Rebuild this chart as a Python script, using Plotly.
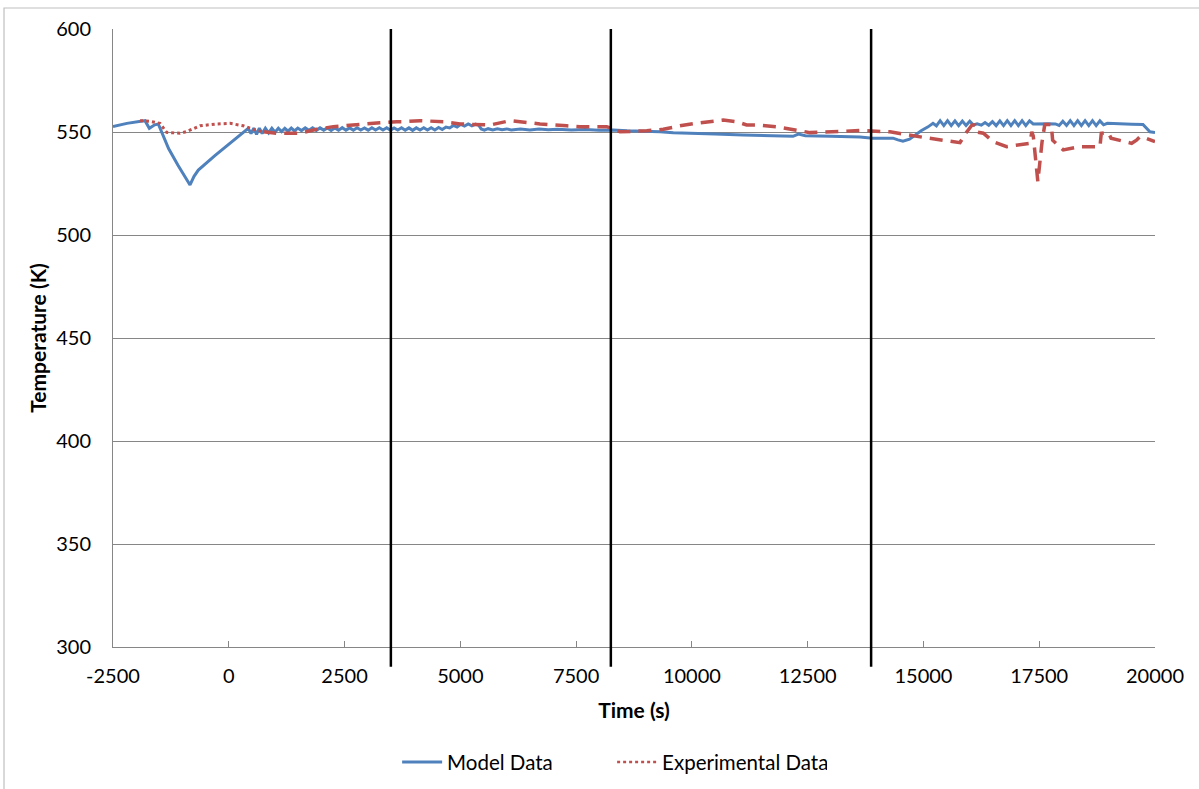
import plotly.graph_objects as go

# ---- data ----
model_t = [-2500, -2200, -1900, -1809, -1716, -1600, -1522, -1300, -1100, -837, -750, -658, -300, 0, 250, 421,
           480, 540, 600, 660, 720, 790, 860, 930, 1000, 1070, 1140, 1210, 1280, 1350, 1420, 1490,
           1570, 1650, 1730, 1810, 1890, 1970, 2050, 2130, 2210, 2290, 2370, 2450, 2530, 2610, 2690, 2770,
           2850, 2930, 3010, 3090, 3170, 3250, 3330, 3410, 3490, 3570, 3650, 3730, 3810, 3890, 3970, 4050,
           4130, 4210, 4290, 4370, 4450, 4530, 4610, 4690,
           4770, 4850, 4930, 5010, 5090, 5170, 5250, 5330, 5400, 5450, 5520, 5600, 5700, 5800, 5900, 6000,
           6100, 6300, 6500, 6700, 6900, 7100, 7400, 7700, 8000, 8300, 8600, 9000, 9311, 9600, 10024, 10500,
           11104, 11600, 12183, 12300, 12450, 13000, 13630, 13900, 14343, 14450, 14558, 14700, 14860, 14950,
           15100, 15206, 15280, 15360, 15440, 15520, 15600, 15680, 15760, 15840, 15920, 16000, 16080, 16160,
           16250, 16330, 16410, 16490, 16570, 16650, 16730, 16810, 16890, 16970, 17050, 17130, 17210, 17290,
           17370, 17500, 17700, 17850, 17930, 18010, 18090, 18170, 18250, 18330, 18410, 18490, 18570, 18650,
           18730, 18810, 18890, 18970, 19200, 19500, 19740, 19800, 19890, 20000]
model_T = [552.6, 554.2, 555.2, 555.5, 551.8, 553.5, 553.9, 542.0, 534.0, 524.3, 528.5, 531.5, 538.5, 544.0, 549.0, 551.8,
           549.2, 551.9, 548.9, 551.9, 549.3, 551.8, 549.6, 551.8, 549.9, 551.8, 550.2, 551.8, 550.4, 551.9, 550.5, 551.9,
           550.7, 552.0, 550.8, 552.0, 550.8, 552.0, 550.9, 552.0, 550.8, 552.0, 550.9, 552.1, 550.9, 552.0, 550.9, 552.1,
           551.0, 552.0, 550.9, 552.1, 551.0, 552.1, 551.0, 552.1, 550.9, 552.0, 551.0, 552.1, 550.9, 552.0, 550.8, 552.0,
           551.0, 552.1, 551.0, 552.1, 551.0, 552.2, 551.2, 552.4,
           552.0, 553.2, 552.4, 553.7, 552.9, 553.9, 553.0, 553.8, 553.2, 551.5, 550.9, 551.6, 551.0, 551.6, 551.1, 551.5,
           551.0, 551.4, 551.0, 551.4, 551.1, 551.3, 551.0, 551.2, 550.9, 551.0, 550.6, 550.5, 550.1, 549.6, 549.4, 549.0,
           548.5, 548.3, 547.9, 549.0, 548.2, 547.9, 547.6, 547.0, 547.0, 546.2, 545.5, 546.5, 549.4, 550.6,
           552.5, 554.2, 553.0, 555.5, 553.1, 555.5, 553.1, 555.4, 553.1, 555.3, 553.2, 555.2, 553.4, 554.0,
           553.3, 554.6, 553.3, 555.0, 553.1, 555.4, 553.1, 555.5, 553.1, 555.5, 553.1, 555.5, 553.1, 555.4,
           553.9, 554.0, 554.0, 553.9, 553.2, 555.2, 553.2, 555.5, 553.1, 555.5, 553.1, 555.5, 553.1, 555.5,
           553.1, 555.4, 553.5, 554.2, 553.9, 553.8, 553.6, 552.2, 550.1, 549.8]

exp_t = [-1917, -1700, -1485, -1341, -1053, -909, -621, -261, 26, 313, 529, 745,
         1033, 1537, 1897, 2257, 2617, 2977, 3266, 3626, 3770, 4130, 4633, 4994, 5426, 5642, 6073, 6721,
         7297, 7585, 8161, 8448, 9024, 9384, 9743, 10175, 10679, 10967, 11183, 11399, 11903, 12551, 13630,
         14278, 14997, 15429, 15789, 15900, 16050, 16110, 16160, 16293, 16509, 16797, 17000, 17300, 17340,
         17372, 17470, 17560, 17620, 17760, 17790, 18020, 18380, 18812, 18840, 18990, 19050, 19300, 19496,
         19600, 19676, 19820, 20000]
exp_T = [555.5, 555.2, 554.2, 549.8, 549.4, 550.2, 553.0, 553.9, 554.2, 553.0, 551.3, 550.1,
         549.4, 549.4, 551.3, 552.6, 553.4, 554.2, 554.5, 555.0, 555.0, 555.5, 555.0, 553.9, 553.4, 553.4, 555.5, 553.9,
         553.0, 552.6, 552.6, 550.1, 550.6, 551.3, 553.0, 554.5, 555.8, 555.0, 553.4, 553.4, 552.3, 549.7, 550.7,
         550.1, 547.4, 546.1, 544.8, 549.0, 553.4, 553.4, 550.0, 549.4, 545.3, 542.9, 543.5, 544.5, 550.1,
         548.0, 526.0, 545.0, 553.6, 553.6, 546.0, 541.3, 542.9, 542.9, 549.4, 549.8, 547.0, 545.5, 544.5,
         546.0, 547.7, 546.9, 545.3]

phase_lines = [3500, 8250, 13870]

x_ticks = [-2500, 0, 2500, 5000, 7500, 10000, 12500, 15000, 17500, 20000]
y_ticks = [300, 350, 400, 450, 500, 550, 600]

BLUE = "#4F81BD"
RED = "#C0504D"
FONT = "Lato"

n_dot = exp_t.index(745) + 1

fig = go.Figure()
fig.add_trace(go.Scatter(x=model_t, y=model_T, mode="lines", name="Model Data",
                         line=dict(color=BLUE, width=3)))
fig.add_trace(go.Scatter(x=exp_t[:n_dot], y=exp_T[:n_dot], mode="lines", showlegend=False,
                         line=dict(color=RED, width=3, dash="dot")))
fig.add_trace(go.Scatter(x=exp_t[n_dot - 1:], y=exp_T[n_dot - 1:], mode="lines", showlegend=False,
                         line=dict(color=RED, width=3.5, dash="13px,8px")))
fig.add_trace(go.Scatter(x=[None], y=[None], mode="lines", name="Experimental Data",
                         line=dict(color=RED, width=2.5, dash="dot")))

for xv in phase_lines:
    fig.add_shape(type="line", xref="x", yref="paper", x0=xv, x1=xv, y0=-0.032, y1=1,
                  line=dict(color="black", width=2.5), layer="above")

# outer chart border
fig.add_shape(type="rect", xref="paper", yref="paper", x0=-0.1046, x1=1.045, y0=-0.235, y1=1.034,
              line=dict(color="#BFBFBF", width=1.2), layer="below")

fig.update_layout(
    width=1199, height=789,
    margin=dict(l=113, r=44, t=29, b=142),
    paper_bgcolor="white", plot_bgcolor="white",
    font=dict(family=FONT, size=20, color="black"),
    showlegend=True,
    legend=dict(orientation="h", x=0.479, xanchor="center", xref="paper",
                yref="container", y=0.034, yanchor="middle",
                font=dict(size=20.5), itemwidth=40, traceorder="normal", entrywidth=160),
    xaxis=dict(range=[-2500, 20000], tickvals=x_ticks, ticktext=[str(v) for v in x_ticks],
               showgrid=False, zeroline=False, showline=True, linecolor="#868686", linewidth=1,
               ticks="inside", ticklen=6, tickcolor="#868686", ticklabelstandoff=11,
               tickfont=dict(size=20),
               title=dict(text="<b>Time (s)</b>", font=dict(size=21), standoff=17)),
    yaxis=dict(range=[300, 600], tickvals=y_ticks, showgrid=True, gridcolor="#868686", gridwidth=1,
               zeroline=False, showline=True, linecolor="#868686", linewidth=1, ticks="",
               ticklabelstandoff=17, tickfont=dict(size=20),
               title=dict(text="<b>Temperature (K)</b>", font=dict(size=21), standoff=3)),
)

fig.write_html("out.html", post_script="document.body.style.margin='0';",
               config={"displayModeBar": False})
